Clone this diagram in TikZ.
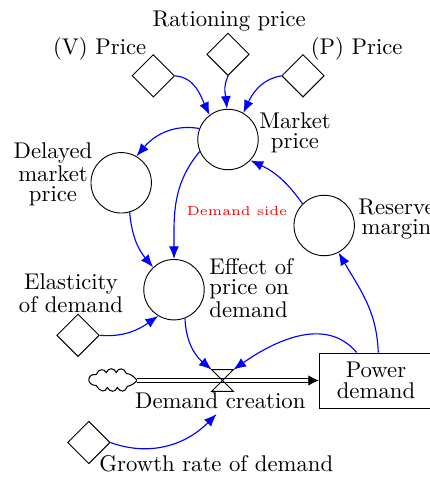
\documentclass[tikz,border=0pt]{standalone}
\usetikzlibrary{shapes.geometric,arrows.meta}
\begin{document}
\begin{tikzpicture}[x=0.44pt,y=0.44pt,
  aux/.style={draw,circle,minimum size=26.6pt,inner sep=0pt},
  param/.style={draw,diamond,minimum width=18.7pt,minimum height=18.7pt,inner sep=0pt},
  lbl/.style={inner sep=0pt,align=center,font=\fontsize{10}{8.8}\selectfont},
  link/.style={blue,line width=0.5pt,-{Latex[length=5.6pt,width=4.4pt]}},
  pipe/.style={double,double distance=1pt,line width=0.45pt},
]
\useasboundingbox (0,0) rectangle (430,477);

% constants (diamonds)
\node[param] (vp) at (153.3,401.2) {};
\node[param] (rp) at (228,422.7) {};
\node[param] (pp) at (303,401.2) {};
\node[param] (el) at (78,141.7) {};
\node[param] (gr) at (88.8,34.5) {};

% auxiliary variables (circles)
\node[aux] (mp) at (228,337.5) {};
\node[aux] (dmp) at (121.2,294.2) {};
\node[aux] (rm) at (324.2,251.5) {};
\node[aux] (ep) at (174,187.3) {};

% stock
\node[draw,rectangle,minimum width=49.9pt,minimum height=24.2pt,inner sep=0pt,
      align=center,font=\fontsize{10}{9.4}\selectfont] (pd) at (376,96.5) {Power\\demand};

% source cloud
\begin{scope}[shift={(113.3,96.5)},line width=0.45pt]
  \coordinate (cld) at (0,0);
  \coordinate (cldr) at (24,0);
  \draw (-17,-5) .. controls (-27,-5) and (-27,7) .. (-17,6)
        .. controls (-15,12) and (-9,12) .. (-7,8)
        .. controls (-5,13) and (1,13) .. (3,8)
        .. controls (5,13) and (11,13) .. (13,7)
        .. controls (18,7) and (21,3) .. (24,0)
        .. controls (21,-3) and (18,-5) .. (14,-6)
        .. controls (12,-12) and (7,-12) .. (4,-7)
        .. controls (2,-12) and (-3,-12) .. (-6,-7)
        .. controls (-8,-12) and (-13,-12) .. (-17,-5) -- cycle;
\end{scope}

% flow pipe and valve
\coordinate (vlv) at (222.5,96.5);
\draw[pipe] (cldr) -- ([xshift=-4.4pt]pd.west);
\draw[-{Latex[length=4.6pt,width=4.6pt]},line width=0.45pt] ([xshift=-4.7pt]pd.west) -- (pd.west);
\draw[line width=0.45pt] (vlv) ++(-10.8,10.8) coordinate (vtl) -- ++(21.6,0) coordinate (vtr)
      -- ++(-21.6,-21.6) -- ++(21.6,0) -- cycle;

% labels
\node[lbl,anchor=base] (vpl) at (99.7,422.7) {(V) Price};
\node[lbl,anchor=base] (rpl) at (229.2,450.3) {Rationing price};
\node[lbl,anchor=base] (ppl) at (356.7,422.7) {(P) Price};
\node[lbl] (mpl) at (295,344.5) {Market\\price};
\node[lbl] (dmpl) at (53,302.5) {Delayed\\market\\price};
\node[lbl] (rml) at (396.5,258) {Reserve\\margin};
\node[lbl,align=left,anchor=west] (epl) at (209,188.7) {Effect of\\price on\\demand};
\node[lbl] (ell) at (71,183.7) {Elasticity\\of demand};
\node[lbl,anchor=base] (dc) at (220.3,68) {Demand creation};
\node[lbl,anchor=base] (grl) at (216.3,5) {Growth rate of demand};
\node[anchor=base,inner sep=0pt,red,font=\tiny] (ds) at (237,262) {\scalebox{1.15}{Demand side}};

% causal links
\draw[link] (vp.east) to[out=-5,in=115] (mp.127);
\draw[link] (rp.south) to[out=-115,in=95] (mp.92);
\draw[link] (pp.west) to[out=190,in=65] (mp.60);
\draw[link] (mp.159) to[out=170,in=50] (dmp.60);
\draw[link] (mp.203) to[out=230,in=90] (ep.90);
\draw[link] (dmp.-74) to[out=-85,in=130] (ep.133);
\draw[link] (rm.135) to[out=125,in=-25] (mp.-43);
\draw[link] (el.east) to[out=-5,in=215] (ep.239);
\draw[link] (ep.-69) to[out=-88,in=140] (vtl);
\draw[link] ([xshift=-8.5pt]pd.north) to[out=130,in=35] (vtr);
\draw[link] ([xshift=1pt]pd.north) to[out=92,in=-60] (rm.-62);
\draw[link] (gr.east) to[out=-20,in=225] ([xshift=-1.6pt,yshift=-1.9pt]dc.south);
\end{tikzpicture}
\end{document}
